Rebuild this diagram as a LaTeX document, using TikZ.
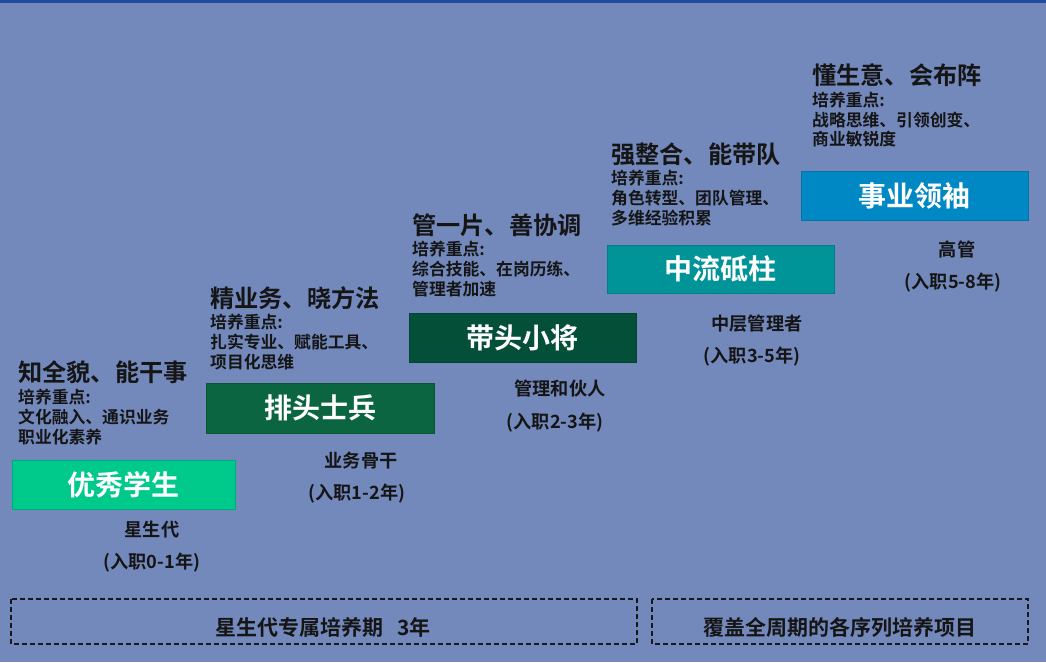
\documentclass[tikz,border=0pt]{standalone}
\usepackage{fontspec}
\setmainfont{Noto Sans CJK SC}[BoldFont={* Bold}]
\newfontfamily\cjkb{Noto Sans CJK SC Bold}
\definecolor{bgc}{HTML}{7389BC}
\definecolor{topc}{HTML}{1F4AA0}
\definecolor{txtc}{HTML}{151515}
\definecolor{cA}{HTML}{00C98C}
\definecolor{cB}{HTML}{0A6540}
\definecolor{cC}{HTML}{044F37}
\definecolor{cD}{HTML}{009499}
\definecolor{cE}{HTML}{0088C4}
\tikzset{
  stagebox/.style={draw=#1!85!black, line width=0.6pt, fill=#1, inner sep=0pt},
  stagetext/.style={text=white, font=\cjkb\fontsize{28}{30}\selectfont, inner sep=0pt},
  titletext/.style={anchor=west, inner sep=0pt, text=txtc, font=\cjkb\fontsize{24.2}{26}\selectfont},
  focustext/.style={anchor=west, inner sep=0pt, text=txtc, font=\cjkb\fontsize{16.8}{18}\selectfont},
  roletext/.style={inner sep=0pt, text=txtc, font=\cjkb\fontsize{18.2}{20}\selectfont},
  dashbox/.style={draw=black!90, line width=1.1pt, dash pattern=on 5pt off 3pt},
  bottomtext/.style={inner sep=0pt, text=txtc, font=\cjkb\fontsize{21}{23}\selectfont}
}
\begin{document}
\begin{tikzpicture}[x=1pt,y=-1pt]
\fill[bgc] (0,0) rectangle (1046,662);
\fill[topc] (0,0) rectangle (1046,2.5);
\useasboundingbox (0,0) rectangle (1046,662);

% stage boxes
\draw[stagebox=cA] (12,460) rectangle (235,509);
\node[stagetext] (sA) at (123.5,485) {优秀学生};
\draw[stagebox=cB] (206,383) rectangle (434,433);
\node[stagetext] (sB) at (320,408) {排头士兵};
\draw[stagebox=cC] (409,313) rectangle (636,362);
\node[stagetext] (sC) at (522.5,338) {带头小将};
\draw[stagebox=cD] (607,245) rectangle (834,293);
\node[stagetext] (sD) at (720.5,269) {中流砥柱};
\draw[stagebox=cE] (801,171) rectangle (1028,220);
\node[stagetext] (sE) at (914.5,196) {事业领袖};

% titles and focus
\node[titletext] (tA) at (18,372.5) {知全貌、能干事};
\node[focustext] (fA1) at (18,397.5) {培养重点:};
\node[focustext] (fA2) at (18,417.5) {文化融入、通识业务};
\node[focustext] (fA3) at (18,437.5) {职业化素养};

\node[titletext] (tB) at (210,298.5) {精业务、晓方法};
\node[focustext] (fB1) at (210,322.5) {培养重点:};
\node[focustext] (fB2) at (210,342.5) {扎实专业、赋能工具、};
\node[focustext] (fB3) at (210,362) {项目化思维};

\node[titletext] (tC) at (412,225.5) {管一片、善协调};
\node[focustext] (fC1) at (412,249.5) {培养重点:};
\node[focustext] (fC2) at (412,269.5) {综合技能、在岗历练、};
\node[focustext] (fC3) at (412,289) {管理者加速};

\node[titletext] (tD) at (611,154.5) {强整合、能带队};
\node[focustext] (fD1) at (611,178.5) {培养重点:};
\node[focustext] (fD2) at (611,198.5) {角色转型、团队管理、};
\node[focustext] (fD3) at (611,218) {多维经验积累};

\node[titletext] (tE) at (812,75.5) {懂生意、会布阵};
\node[focustext] (fE1) at (812,100) {培养重点:};
\node[focustext] (fE2) at (812,120) {战略思维、引领创变、};
\node[focustext] (fE3) at (812,139.5) {商业敏锐度};

% roles
\node[roletext] (rA1) at (152,530) {星生代};
\node[roletext] (rA2) at (152,563) {(入职0-1年)};
\node[roletext] (rB1) at (361,461) {业务骨干};
\node[roletext] (rB2) at (357,494) {(入职1-2年)};
\node[roletext] (rC1) at (560,389) {管理和伙人};
\node[roletext] (rC2) at (555,423) {(入职2-3年)};
\node[roletext] (rD1) at (757,324) {中层管理者};
\node[roletext] (rD2) at (752,357) {(入职3-5年)};
\node[roletext] (rE1) at (957,250) {高管};
\node[roletext] (rE2) at (953,283) {(入职5-8年)};

% bottom dashed boxes
\draw[dashbox] (11,599) rectangle (637,644);
\node[bottomtext] (b1) at (323,627) {星生代专属培养期\hspace{14pt}3年};
\draw[dashbox] (652,599) rectangle (1028,644);
\node[bottomtext] (b2) at (840,627) {覆盖全周期的各序列培养项目};
\end{tikzpicture}
\end{document}
